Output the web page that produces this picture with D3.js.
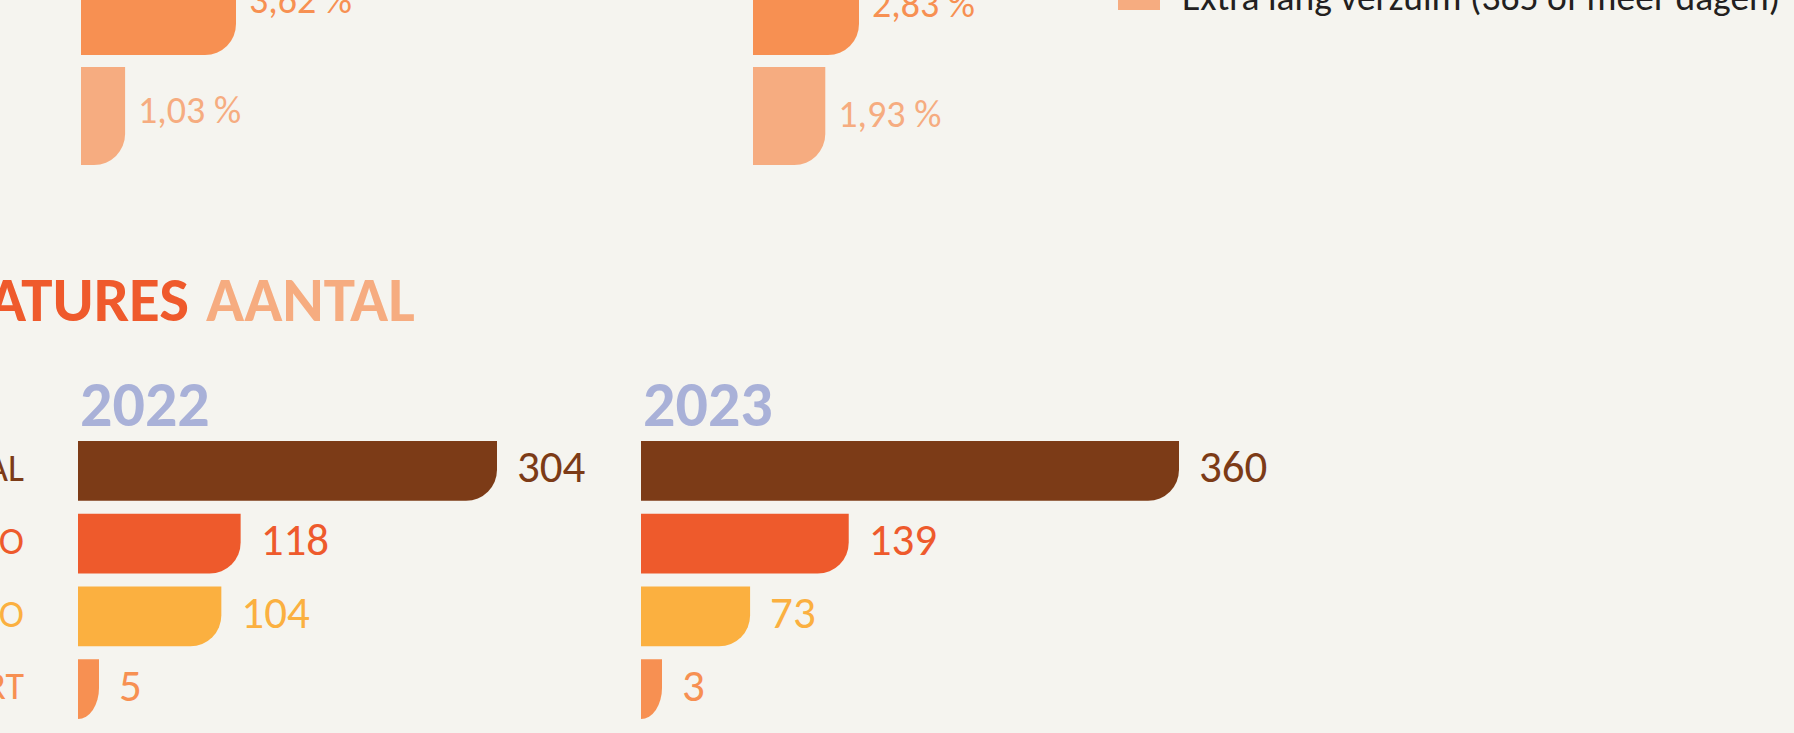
<!DOCTYPE html>
<html>
<head>
<meta charset="utf-8">
<script src="https://cdn.jsdelivr.net/npm/d3@7"></script>
<style>
    html, body { margin: 0; padding: 0; background: #F5F4EF; overflow: hidden; }
    svg { display: block; font-family: Carlito, Calibri, Lato, sans-serif; }
</style>
</head>
<body>
<div id="chart"></div>
<script>

// verzuim (percentages), only the last two rows of this block are in view
const verzuimCategories = ["Lang verzuim", "Extra lang verzuim"];
const verzuim2022 = [3.62, 1.03];
const verzuim2023 = [2.83, 1.93];
const verzuimLegend = ["Extra lang verzuim (365 of meer dagen)"];

// vacatures (aantal)
const vacatureCategories = ["TOTAAL", "HBO", "MBO", "KORT"];
const vacatures2022 = [304, 118, 104, 5];
const vacatures2023 = [360, 139, 73, 3];
const years = ["2022", "2023"];

const verzuimColors = ["#F79052", "#F6AC80"];
const vacatureColors = ["#7C3B17", "#EE5A2C", "#FBB040", "#F79052"];

const width = 1794, height = 733;
const nl = d3.formatLocale({decimal: ",", thousands: ".", grouping: [3], currency: ["€", ""]});
const pct = v => nl.format(".2f")(v) + " %";

const svg = d3.select("#chart").append("svg")
    .attr("width", width)
    .attr("height", height);

svg.append("rect")
    .attr("width", width)
    .attr("height", height)
    .attr("fill", "#F5F4EF");

// bar with only the bottom-right corner rounded
function barPath(w, h, r) {
    let rx = Math.min(r, w), ry = Math.min(r, h);
    return `M0,0H${w}V${h - ry}A${rx},${ry} 0 0 1 ${w - rx},${h}H0Z`;
}

class BarPanel {

    constructor(parent, opts) {
        this.parent = parent;
        this.opts = opts;
        this.initVis();
    }

    initVis() {
        let vis = this;
        let o = vis.opts;

        vis.g = vis.parent.append("g")
            .attr("transform", `translate(${o.left}, 0)`);

        vis.x = d3.scaleLinear()
            .domain([0, d3.max(o.values)])
            .range([0, o.maxWidth]);

        vis.y = d3.scaleBand()
            .domain(o.categories)
            .range(o.yRange)
            .paddingInner(o.padding)
            .paddingOuter(0);

        vis.data = o.categories.map((c, i) => ({cat: c, value: o.values[i], color: o.colors[i]}));

        vis.updateVis();
    }

    updateVis() {
        let vis = this;
        let o = vis.opts;
        let bw = vis.y.bandwidth();
        let w = d => Math.max(vis.x(d.value), o.minWidth);

        vis.g.selectAll(".bar")
            .data(vis.data)
            .enter().append("path")
            .attr("class", "bar")
            .attr("transform", d => `translate(0, ${vis.y(d.cat)})`)
            .attr("d", d => barPath(w(d), bw, o.radius))
            .attr("fill", d => d.color);

        vis.g.selectAll(".value-label")
            .data(vis.data)
            .enter().append("text")
            .attr("class", "value-label")
            .attr("x", d => w(d) + o.labelGap)
            .attr("y", d => vis.y(d.cat) + bw / 2 + o.labelShift + o.fontSize * 0.32)
            .attr("fill", d => d.color)
            .style("font-size", o.fontSize + "px")
            .text(d => o.format(d.value));
    }
}

// ---- verzuim block (top, mostly above the view) ----
let verzuimLefts = [81, 753];
[verzuim2022, verzuim2023].forEach((vals, i) => {
    new BarPanel(svg, {
        left: verzuimLefts[i],
        maxWidth: [155, 106][i],
        values: vals,
        categories: verzuimCategories,
        colors: verzuimColors,
        yRange: [-43, 165],
        padding: 0.107,
        radius: 31,
        minWidth: 20,
        labelGap: 13,
        labelShift: [-5, -1][i],
        fontSize: 38,
        format: pct
    });
});

// legend
let legend = svg.append("g").attr("class", "legend");
legend.selectAll("rect")
    .data(verzuimLegend)
    .enter().append("rect")
    .attr("x", 1118)
    .attr("y", -32)
    .attr("width", 42)
    .attr("height", 42)
    .attr("fill", verzuimColors[1]);
legend.selectAll("text")
    .data(verzuimLegend)
    .enter().append("text")
    .attr("x", 1182)
    .attr("y", 10)
    .attr("fill", "#231F20")
    .style("font-size", "37.5px")
    .text(d => d);

// ---- vacatures block ----
let title = svg.append("g").attr("class", "title");
title.append("text")
    .attr("x", 189)
    .attr("y", 321)
    .attr("text-anchor", "end")
    .attr("fill", "#EF5A2C")
    .style("font-size", "63px")
    .style("font-weight", 700)
    .text("VACATURES");
title.append("text")
    .attr("x", 206)
    .attr("y", 321)
    .attr("fill", "#F6AC80")
    .style("font-size", "63px")
    .style("font-weight", 700)
    .text("AANTAL");

let lefts = [78, 641];
[vacatures2022, vacatures2023].forEach((vals, i) => {
    new BarPanel(svg, {
        left: lefts[i],
        maxWidth: [419, 538][i],
        values: vals,
        categories: vacatureCategories,
        colors: vacatureColors,
        yRange: [441, 719],
        padding: 0.178,
        radius: 31,
        minWidth: 21,
        labelGap: 20,
        labelShift: -3,
        fontSize: 45,
        format: d3.format("d")
    });

    svg.append("text")
        .attr("class", "year")
        .attr("x", lefts[i] + 2)
        .attr("y", 426)
        .attr("fill", "#A9B1D8")
        .style("font-size", "64px")
        .style("font-weight", 700)
        .text(years[i]);
});

// category labels, cut at the left edge like the original page
let yCat = d3.scaleBand()
    .domain(vacatureCategories)
    .range([441, 719])
    .paddingInner(0.178)
    .paddingOuter(0);

svg.selectAll(".cat-label")
    .data(vacatureCategories)
    .enter().append("text")
    .attr("class", "cat-label")
    .attr("x", 24)
    .attr("y", d => yCat(d) + yCat.bandwidth() / 2 + 38 * 0.32 - 2)
    .attr("text-anchor", "end")
    .attr("fill", (d, i) => vacatureColors[i])
    .style("font-size", "38px")
    .text(d => d);

</script>
</body>
</html>
